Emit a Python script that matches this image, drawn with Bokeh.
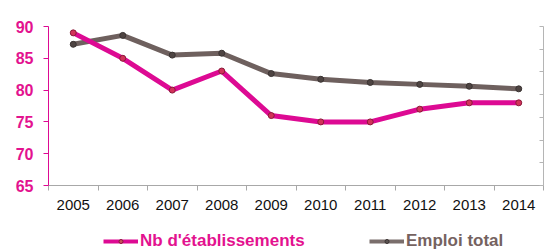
from bokeh.plotting import figure
from bokeh.layouts import column
from bokeh.models import (Range1d, LinearAxis, FixedTicker, Legend, LegendItem,
                          ColumnDataSource)
from bokeh.embed import file_html
from bokeh.resources import INLINE

years = [2005, 2006, 2007, 2008, 2009, 2010, 2011, 2012, 2013, 2014]
etablissements = [89, 85, 80, 83, 76, 75, 75, 77, 78, 78]
emploi_total = [87.2, 88.6, 85.5, 85.8, 82.6, 81.7, 81.2, 80.9, 80.6, 80.2]
y_ticks = [65, 70, 75, 80, 85, 90]
right_ticks = [0, 1, 2, 3, 4, 5, 6, 7]
series_names = ["Nb d'établissements", "Emploi total"]

PINK = "#DD0A93"
PINK_TXT = "#E3128F"
GRAY = "#6E605E"
GRAY_TXT = "#75625F"

p = figure(width=545, height=228, output_backend="svg", toolbar_location=None,
           x_range=Range1d(years[0] - 0.5, years[-1] + 0.5),
           y_range=Range1d(65, 90),
           min_border_left=48, min_border_right=2, min_border_top=26,
           min_border_bottom=43, outline_line_color=None)
p.xgrid.visible = False
p.ygrid.visible = False

src = ColumnDataSource(dict(x=years, a=etablissements, b=emploi_total))

p.line("x", "b", source=src, line_color=GRAY, line_width=5)
p.scatter("x", "b", source=src, size=6, fill_color="#4E4442",
          line_color="#3a3332", line_width=1)
p.line("x", "a", source=src, line_color=PINK, line_width=5)
p.scatter("x", "a", source=src, size=6, fill_color="#D2325A",
          line_color="#8a1a3a", line_width=1)

# x axis
xa = p.xaxis[0]
xa.ticker = FixedTicker(ticks=years, minor_ticks=[y - 0.5 for y in years] + [years[-1] + 0.5])
xa.major_tick_line_color = None
xa.minor_tick_line_color = "#A8A8A8"
xa.minor_tick_out = 5
xa.minor_tick_in = 0
xa.axis_line_color = "#A8A8A8"
xa.major_label_text_font = "Liberation Sans"
xa.major_label_text_font_size = "15px"
xa.major_label_text_color = "#111111"
xa.major_label_standoff = 8

# left axis
ya = p.yaxis[0]
ya.ticker = FixedTicker(ticks=y_ticks)
ya.axis_line_color = PINK
ya.major_tick_line_color = PINK
ya.major_tick_out = 5
ya.major_tick_in = 0
ya.minor_tick_line_color = None
ya.major_label_text_font = "Liberation Sans"
ya.major_label_text_font_style = "bold"
ya.major_label_text_font_size = "16px"
ya.major_label_text_color = PINK_TXT
ya.major_label_standoff = 10

# right axis (labels out of view)
p.extra_y_ranges = {"r": Range1d(0, 7)}
ra = LinearAxis(y_range_name="r", ticker=FixedTicker(ticks=right_ticks))
ra.axis_line_color = "#B5B5B5"
ra.major_tick_line_color = "#B5B5B5"
ra.major_tick_in = 4
ra.major_tick_out = 0
ra.minor_tick_line_color = None
ra.major_label_text_color = None
ra.major_label_text_font_size = "1px"
ra.major_label_standoff = 0
p.add_layout(ra, "right")

# legend strip (its own small figure; dummy glyphs lie outside its ranges)
lf = figure(width=545, height=23, output_backend="svg", toolbar_location=None,
            x_range=Range1d(0, 1), y_range=Range1d(0, 1),
            min_border_left=0, min_border_right=0, min_border_top=0,
            min_border_bottom=0, outline_line_color=None)
lf.axis.visible = False
lf.grid.visible = False
dummy = ColumnDataSource(dict(x=[5, 6], y=[5, 5]))
la = lf.line("x", "y", source=dummy, line_color=PINK, line_width=4)
ma = lf.scatter("x", "y", source=dummy, size=3, fill_color="#C8505A",
                line_color="#8a1a3a", line_width=1)
lb = lf.line("x", "y", source=dummy, line_color="#7A6E6C", line_width=4)
mb = lf.scatter("x", "y", source=dummy, size=3, fill_color="#5a5250",
                line_color="#3a3332", line_width=1)

def mk_legend(label, renderers, color, x):
    lg = Legend(items=[LegendItem(label=label, renderers=renderers)],
                location=(x, 0), orientation="horizontal",
                label_text_font="Liberation Sans", label_text_font_style="bold",
                label_text_font_size="17px", label_text_color=color,
                label_height=20,
                glyph_width=35, glyph_height=10, label_standoff=2,
                padding=0, margin=0, spacing=0,
                background_fill_alpha=0, border_line_color=None)
    lf.add_layout(lg, "center")

mk_legend(series_names[0], [la, ma], PINK_TXT, 55)
mk_legend(series_names[1], [lb, mb], GRAY_TXT, 321)

layout = column(p, lf, spacing=0)
open("out.html", "w").write(file_html(layout, INLINE))
